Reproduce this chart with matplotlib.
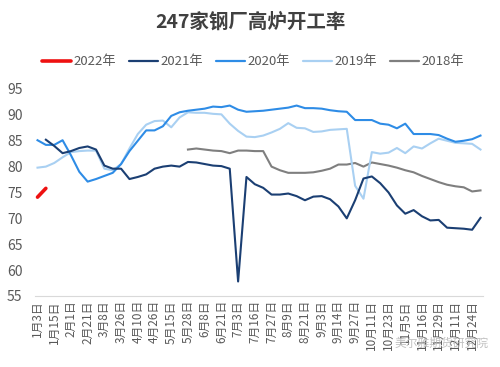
import matplotlib
matplotlib.use("Agg")
import matplotlib.pyplot as plt
import numpy as np

plt.rcParams['font.family'] = ['Noto Sans CJK SC', 'DejaVu Sans']

dates = ["1月3日", "1月15日", "2月1日", "2月21日", "3月8日", "3月26日", "4月10日",
         "4月26日", "5月15日", "5月28日", "6月8日", "6月21日", "7月3日", "7月16日",
         "7月27日", "8月9日", "8月21日", "9月3日", "9月14日", "9月27日", "10月11日",
         "10月23日", "11月5日", "11月16日", "11月29日", "12月11日", "12月24日"]

y2022 = [74.1, 75.8]

y2021 = [None, 85.2, 84.0, 82.6, 83.0, 83.6, 83.9, 83.3, 80.2, 79.6,
         79.6, 77.6, 78.0, 78.5, 79.6, 80.0, 80.2, 80.0, 80.9, 80.8,
         80.5, 80.2, 80.1, 79.6, 57.8, 78.0, 76.6, 75.9, 74.6, 74.6,
         74.8, 74.3, 73.5, 74.2, 74.3, 73.7, 72.3, 70.0, 73.5, 77.7,
         78.1, 76.8, 75.0, 72.5, 70.9, 71.6, 70.4, 69.6, 69.7, 68.2,
         68.1, 68.0, 67.8, 70.1]

y2020 = [85.1, 84.2, 84.2, 85.1, 82.2, 79.0, 77.1, 77.6, 78.2, 78.8,
         80.5, 83.0, 85.0, 87.0, 87.0, 87.8, 89.8, 90.5, 90.8, 91.0,
         91.2, 91.6, 91.5, 91.8, 91.0, 90.6, 90.7, 90.8, 91.0, 91.2,
         91.4, 91.8, 91.3, 91.3, 91.2, 90.9, 90.7, 90.6, 89.0, 89.0,
         89.0, 88.3, 88.1, 87.4, 88.3, 86.3, 86.3, 86.3, 86.1, 85.4,
         84.8, 85.0, 85.3, 86.0]

y2019 = [79.8, 80.0, 80.7, 81.8, 82.8, 83.0, 83.1, 83.1, 79.6, 79.3,
         80.5, 83.5, 86.3, 88.1, 88.8, 88.9, 87.6, 89.5, 90.5, 90.4,
         90.4, 90.2, 90.1, 88.3, 86.9, 85.8, 85.7, 86.0, 86.6, 87.3,
         88.4, 87.5, 87.4, 86.7, 86.8, 87.1, 87.2, 87.3, 76.3, 73.8,
         82.8, 82.5, 82.7, 83.6, 82.6, 83.9, 83.5, 84.5, 85.4, 85.0,
         84.6, 84.5, 84.4, 83.3]

y2018 = [None] * 18 + [
         83.3, 83.5, 83.3, 83.1, 83.0, 82.6, 83.1, 83.1, 83.0, 83.0,
         80.0, 79.3, 78.8, 78.8, 78.8, 78.9, 79.2, 79.6, 80.4, 80.4,
         80.7, 80.0, 80.8, 80.5, 80.2, 79.8, 79.3, 78.9, 78.2, 77.6,
         77.0, 76.5, 76.2, 76.0, 75.2, 75.4]


def arr(v):
    return np.array([np.nan if a is None else a for a in v], dtype=float)


fig = plt.figure(figsize=(5, 3.67), dpi=100)
ax = fig.add_axes([0.07, 0.1935, 0.896, 0.564])

ax.plot(np.arange(len(y2018)), arr(y2018), color='#7f7f7f', lw=1.5)
ax.plot(np.arange(len(y2019)), arr(y2019), color='#a9d0f2', lw=1.5)
ax.plot(np.arange(len(y2020)), arr(y2020), color='#2e8ce6', lw=1.5)
ax.plot(np.arange(len(y2021)), arr(y2021), color='#1b3f73', lw=1.5)
ax.plot(np.arange(len(y2022)), arr(y2022), color='#ee1111', lw=2.6,
        solid_capstyle='round')

ax.set_ylim(55, 95)
ax.set_yticks(range(55, 96, 5))
ax.set_xlim(-0.3, 53.3)
ax.set_xticks(range(0, 2 * len(dates), 2))
ax.set_xticklabels(dates, rotation=90, fontsize=8.5, color='#595959')
ax.tick_params(axis='y', length=0, labelsize=10, labelcolor='#595959', pad=9)
ax.tick_params(axis='x', length=0, pad=3)

for s in ['top', 'right', 'left']:
    ax.spines[s].set_visible(False)
ax.spines['bottom'].set_color('#d9d9d9')

fig.text(0.5, 0.94, "247家钢厂高炉开工率", ha='center', va='center',
         fontsize=14, fontweight='bold', color='#404040')

# legend drawn by hand in figure coords
leg = [("2022年", '#ee1111', 2.6), ("2021年", '#1b3f73', 1.6),
       ("2020年", '#2e8ce6', 1.6), ("2019年", '#a9d0f2', 1.6),
       ("2018年", '#7f7f7f', 1.6)]
x0 = 42
for lab, c, w in leg:
    fig.add_artist(plt.Line2D([x0 / 500, (x0 + 29) / 500], [1 - 61 / 367] * 2,
                              color=c, lw=w, solid_capstyle='round'))
    fig.text((x0 + 31) / 500, 1 - 61 / 367, lab, va='center', ha='left',
             fontsize=9.5, color='#595959')
    x0 += 87

fig.text(0.79, 0.055, "美尔雅期货研究院", fontsize=8.5, color='#b0b0b0', alpha=0.8)

fig.savefig("out.png", dpi=100)
